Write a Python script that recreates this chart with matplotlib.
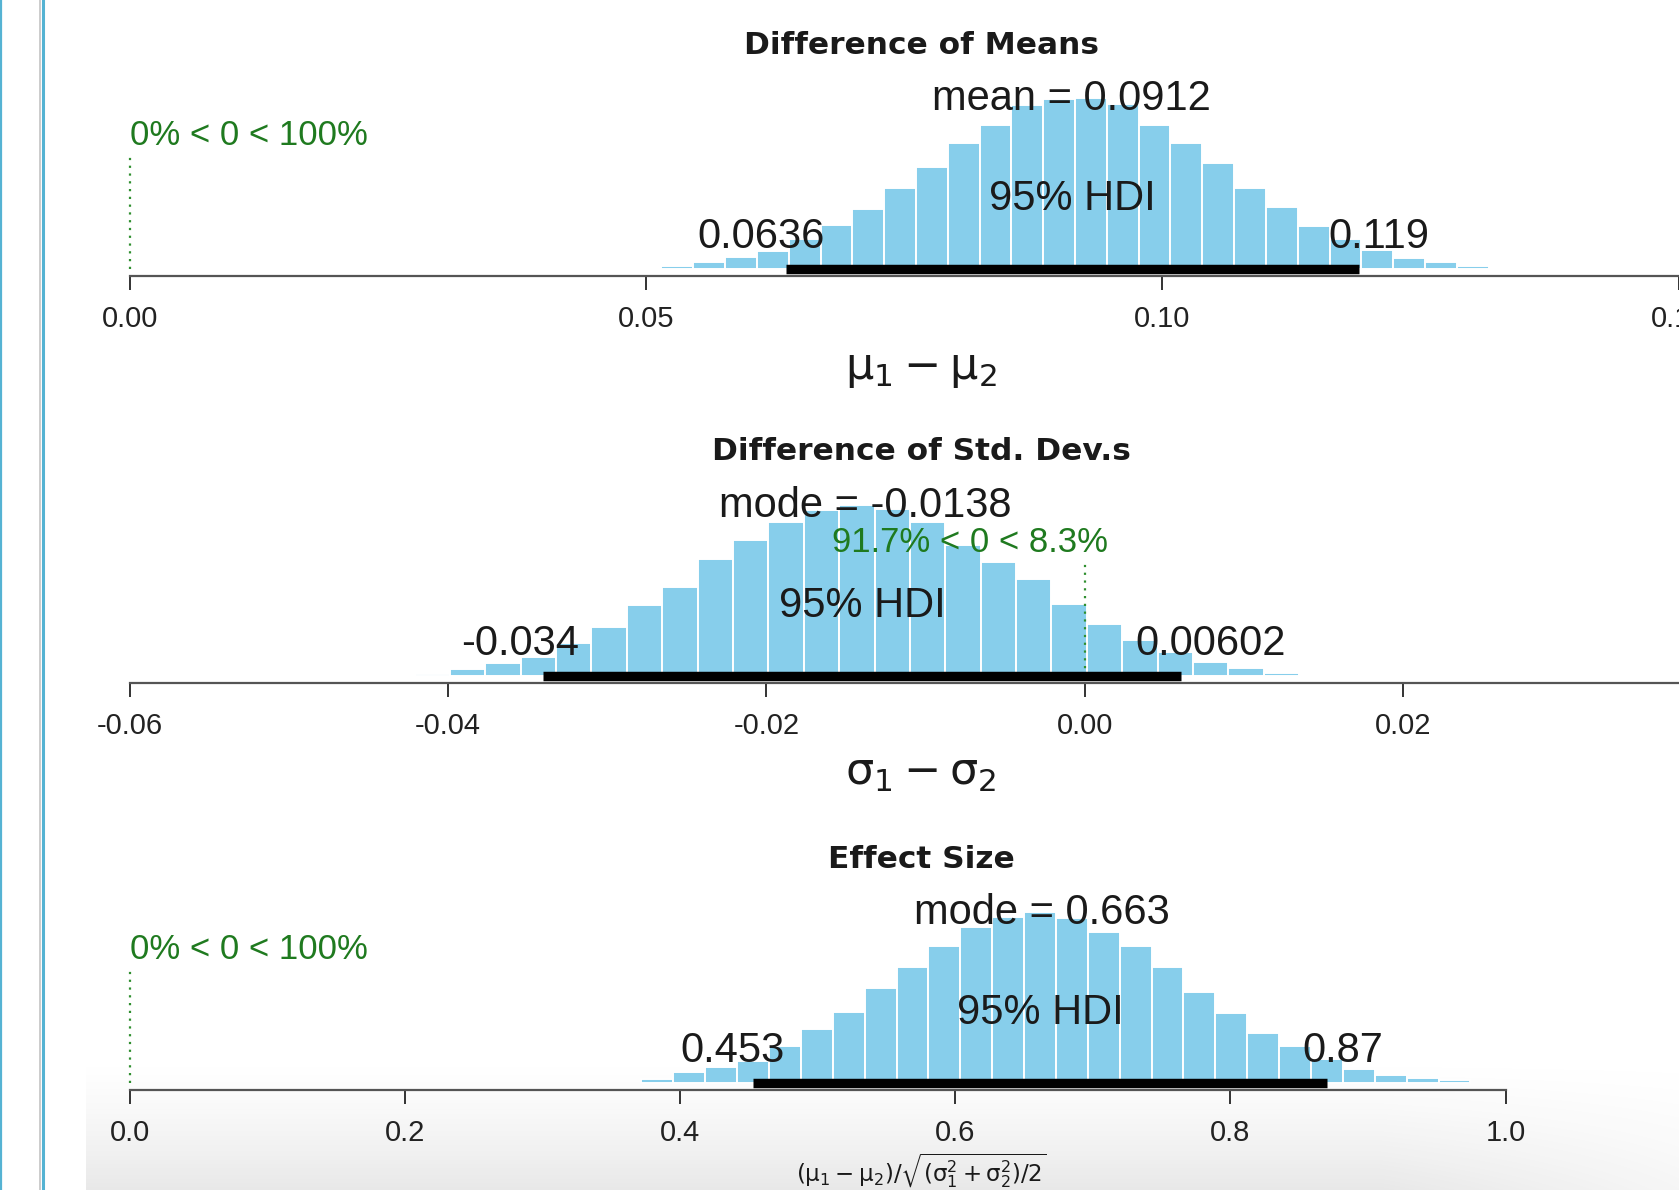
import numpy as np
import matplotlib
matplotlib.use("Agg")
import matplotlib.pyplot as plt
from matplotlib import transforms
from matplotlib.lines import Line2D

plt.rcParams["font.family"] = ["Liberation Sans", "DejaVu Sans"]
plt.rcParams["mathtext.fontset"] = "dejavusans"

# --- values (posterior histograms, densities) ---
titles = ["Difference of Means", "Difference of Std. Dev.s", "Effect Size"]
xlabels = [
    r"$\mathrm{\mu}_1 - \mathrm{\mu}_2$",
    r"$\mathrm{\sigma}_1 - \mathrm{\sigma}_2$",
    r"$(\mathrm{\mu}_1 - \mathrm{\mu}_2)/\sqrt{(\mathrm{\sigma}_1^2 + \mathrm{\sigma}_2^2)/2}$",
]

mean_diff_start = 0.0515
mean_diff_bin = 0.00308
mean_diff_density = [0.6, 1.2, 2.0, 3.1, 5.1, 7.4, 10.1, 13.7, 17.1, 21.1, 24.2, 27.5, 28.6,
                     28.7, 27.8, 24.2, 21.2, 17.9, 13.7, 10.4, 7.3, 5.1, 3.2, 1.9, 1.2, 0.6]

sd_diff_start = -0.0421
sd_diff_bin = 0.002223
sd_diff_density = [0.6, 1.7, 3.0, 4.6, 7.9, 11.6, 16.7, 21.1, 27.7, 32.1, 36.4, 39.1, 40.3,
                   39.5, 36.4, 30.9, 27.0, 22.9, 16.9, 12.2, 8.6, 5.7, 3.4, 2.0, 0.8]

effect_start = 0.372
effect_bin = 0.02317
effect_density = [0.09, 0.25, 0.35, 0.50, 0.84, 1.22, 1.60, 2.13, 2.60, 3.06, 3.48, 3.71, 3.82,
                  3.69, 3.37, 3.06, 2.60, 2.03, 1.57, 1.13, 0.84, 0.54, 0.31, 0.19, 0.11, 0.06]

centre_names = ["mean", "mode", "mode"]
centre_values = ["0.0912", "-0.0138", "0.663"]
centre_x = [0.0912, -0.0138, 0.663]
hdi_low = [0.0636, -0.034, 0.453]
hdi_high = [0.119, 0.00602, 0.87]
hdi_low_text = ["0.0636", "-0.034", "0.453"]
hdi_high_text = ["0.119", "0.00602", "0.87"]
comp_value = [0.0, 0.0, 0.0]
pct_below = [0.0, 91.7, 0.0]

ticks = [
    [0.00, 0.05, 0.10, 0.15],
    [-0.06, -0.04, -0.02, 0.00, 0.02, 0.04],
    [0.0, 0.2, 0.4, 0.6, 0.8, 1.0],
]
tick_fmt = ["{:.2f}", "{:.2f}", "{:.1f}"]

# --- layout (pixels of the 1679x1190 output) ---
W, H = 1679, 1190
calib = [((0.00, 129.6), (0.05, 646.0)),
         ((-0.06, 129.6), (0.00, 1084.7)),
         ((0.0, 129.6), (1.0, 1505.6))]
axis_y = [276, 683, 1090]
peak_px = 171
title_y = [45, 452, 859]
xlabel_y = [369, 773, 1190]
centre_px_x = 921
skyblue = "#87ceeb"
green = "#1f7a1f"
ink = "#1a1a1a"


def fx(px):
    return px / W


def fy(px):
    return 1 - px / H


fig = plt.figure(figsize=(W / 100, H / 100), dpi=100)
renderer = fig.canvas.get_renderer()

# faint screen-capture shading along the bottom
bg = fig.add_axes([0, 0, 1, 1], zorder=-5)
bg.set_xlim(0, W)
bg.set_ylim(H, 0)
bg.axis("off")
yy = np.clip((np.arange(1060, H) - 1060) / (H - 1060), 0, 1)[:, None]
xx = np.clip((1679 - np.arange(86, W)) / 300, 0, 1)[None, :]
alpha = 0.2 * yy ** 1.3 * (0.4 + 0.6 * xx)
shade = np.zeros(alpha.shape + (4,))
shade[..., :3] = 0.55
shade[..., 3] = alpha
bg.imshow(shade, extent=(86, W, H, 1060), aspect="auto", interpolation="bilinear")
bg.add_line(Line2D([39.5, 39.5], [0, H], color="#c4c4c4", lw=1.2))
bg.add_line(Line2D([42.5, 42.5], [0, H], color="#55b3d3", lw=2.2))
bg.add_line(Line2D([1, 1], [0, H], color="#55b3d3", lw=1.6))


def frac_text(ax, x, y, s, frac, **kw):
    t = ax.text(x, y, s, ha="left", va="center", **kw)
    w = t.get_window_extent(renderer).width
    t.set_transform(transforms.offset_copy(ax.transData, fig=fig, x=-frac * w, y=0, units="dots"))
    return t


panels = [
    (mean_diff_start, mean_diff_bin, mean_diff_density),
    (sd_diff_start, sd_diff_bin, sd_diff_density),
    (effect_start, effect_bin, effect_density),
]

for i, (start, width, dens) in enumerate(panels):
    dens = np.asarray(dens)
    m = dens.max()
    edges = start + width * np.arange(len(dens))

    height_px = 1.08 * peak_px
    ax = fig.add_axes([0, fy(axis_y[i]), 1, height_px / H])
    ax.patch.set_visible(False)

    for side in ["top", "left", "right"]:
        ax.spines[side].set_visible(False)
    ax.spines["bottom"].set_bounds(ticks[i][0], ticks[i][-1])
    ax.spines["bottom"].set_color("#555555")
    ax.spines["bottom"].set_linewidth(1.6)
    ax.set_yticks([])
    ax.set_xticks(ticks[i], labels=[tick_fmt[i].format(t) for t in ticks[i]])
    ax.tick_params(axis="x", direction="out", length=10, width=1.4, color="#333333",
                   pad=11, labelsize=21, labelcolor="#222222")

    # limits after the ticks, so ticks beyond the frame do not widen the view
    (v0, p0), (v1, p1) = calib[i]
    scale = (p1 - p0) / (v1 - v0)
    ax.set_xlim(v0 - p0 / scale, v0 + (W - p0) / scale)
    ax.set_ylim(-0.04 * m, 1.04 * m)

    ax.bar(edges, dens, width=width, align="edge", color=skyblue, edgecolor="white",
           linewidth=1.4, zorder=2)

    ax.text(centre_x[i], 0.995 * m, f"{centre_names[i]} = {centre_values[i]}",
            ha="center", va="center", fontsize=30, color=ink, zorder=4)

    cv = comp_value[i]
    ax.plot([cv, cv], [0, 0.672 * m], color="#2f8f2f", lw=1.6, linestyle=(0, (1, 2.5)),
            zorder=3)
    frac_text(ax, cv, 0.78 * m,
              f"{pct_below[i]:g}% < {cv:g} < {100 - pct_below[i]:g}%",
              pct_below[i] / 100, fontsize=25, color=green, zorder=4)

    ax.plot([hdi_low[i], hdi_high[i]], [0, 0], color="black", lw=6.8,
            solid_capstyle="butt", zorder=5)
    ax.text((hdi_low[i] + hdi_high[i]) / 2, 0.41 * m, "95% HDI", ha="center", va="center",
            fontsize=30, color=ink, zorder=4)
    frac_text(ax, hdi_low[i], 0.19 * m, hdi_low_text[i], 0.7, fontsize=30, color=ink, zorder=4)
    frac_text(ax, hdi_high[i], 0.19 * m, hdi_high_text[i], 0.3, fontsize=30, color=ink, zorder=4)

    fig.text(fx(centre_px_x), fy(title_y[i]), titles[i], ha="center", va="center",
             fontsize=22.5, fontweight="bold", family="DejaVu Sans", color=ink)
    if i < 2:
        fig.text(fx(centre_px_x), fy(xlabel_y[i]), xlabels[i], ha="center", va="center",
                 fontsize=32, color=ink)
    else:
        fig.text(fx(centre_px_x), fy(xlabel_y[i]), xlabels[i], ha="center", va="bottom",
                 fontsize=16.5, color=ink)

fig.savefig("out.png", dpi=100)
